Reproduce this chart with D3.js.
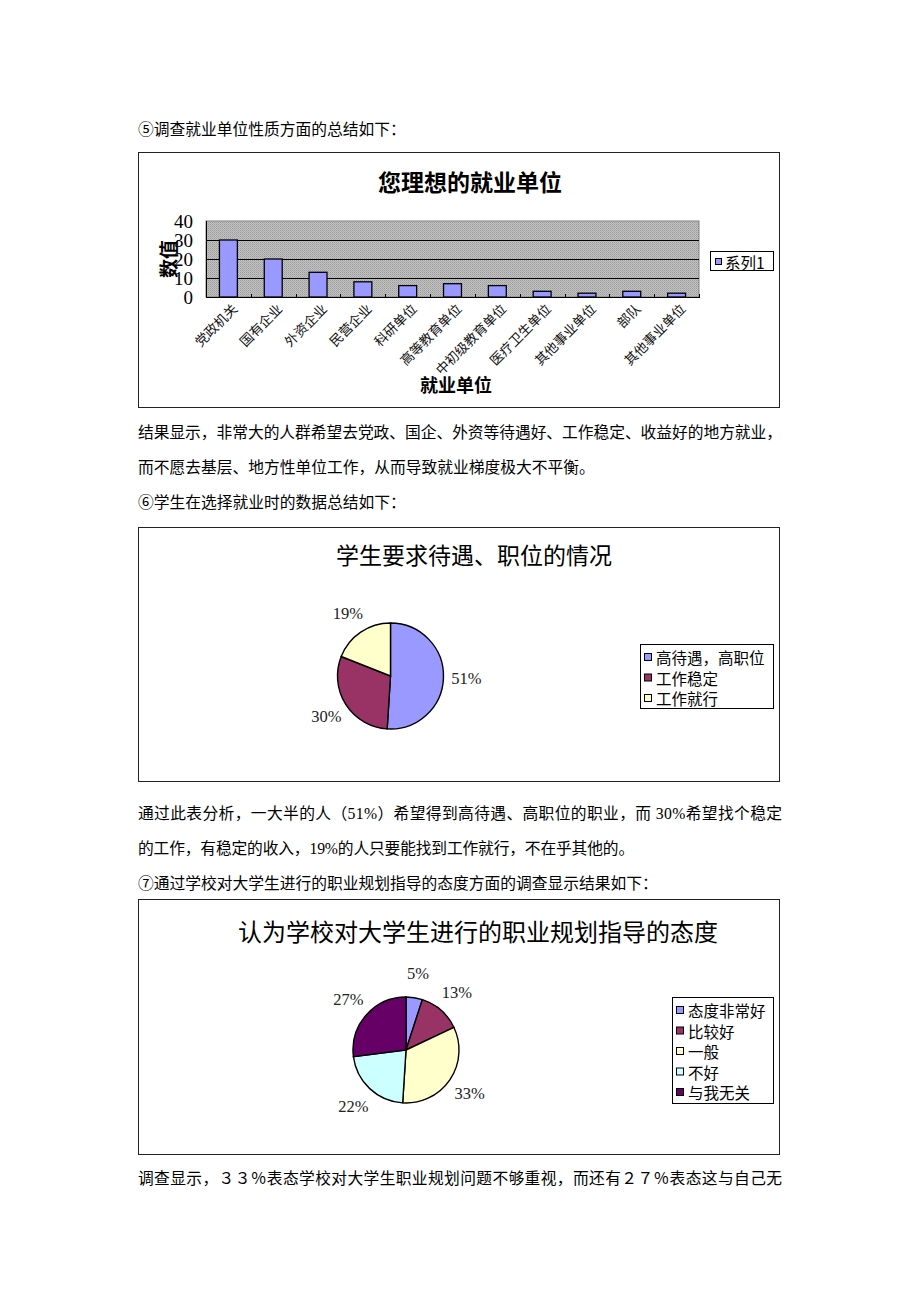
<!DOCTYPE html>
<html><head><meta charset="utf-8">
<script src="https://cdn.jsdelivr.net/npm/d3@7"></script>
<style>
html,body{margin:0;padding:0;background:#fff;}
svg{display:block;}
</style></head>
<body>
<svg id="c" width="920" height="1302"></svg>
<script>
// ---- data ----
const barCategories = ["党政机关","国有企业","外资企业","民营企业","科研单位","高等教育单位","中初级教育单位","医疗卫生单位","其他事业单位","部队","其他事业单位"];
const barValues = [30,20,13,8,6,7,6,3,2,3,2];
const barTicks = [0,10,20,30,40];
const barSeriesName = "系列1";

const pie1Labels = ["高待遇，高职位","工作稳定","工作就行"];
const pie1Values = [51,30,19];

const pie2Labels = ["态度非常好","比较好","一般","不好","与我无关"];
const pie2Values = [5,13,33,22,27];

const colors = ["#9999FF","#993366","#FFFFCC","#CCFFFF","#660066"];

const titles = ["您理想的就业单位","学生要求待遇、职位的情况","认为学校对大学生进行的职业规划指导的态度"];

const paragraphs = [
  {y:129, t:"⑤调查就业单位性质方面的总结如下：", full:false},
  {y:432, t:"结果显示，非常大的人群希望去党政、国企、外资等待遇好、工作稳定、收益好的地方就业，", full:true},
  {y:467, t:"而不愿去基层、地方性单位工作，从而导致就业梯度极大不平衡。", full:false},
  {y:502, t:"⑥学生在选择就业时的数据总结如下：", full:false},
  {y:813, t:"通过此表分析，一大半的人（51%）希望得到高待遇、高职位的职业，而 30%希望找个稳定", full:true},
  {y:848, t:"的工作，有稳定的收入，19%的人只要能找到工作就行，不在乎其他的。", full:false},
  {y:883, t:"⑦通过学校对大学生进行的职业规划指导的态度方面的调查显示结果如下：", full:false},
  {y:1178, t:"调查显示，３３％表态学校对大学生职业规划问题不够重视，而还有２７％表态这与自己无", full:true}
];

const svg = d3.select("#c");
const SERIF = "'Liberation Serif','Noto Sans CJK SC',serif";
const CJK = "'Noto Sans CJK SC','Liberation Sans',sans-serif";
const FS = 15.75;

// pattern for plot background
const defs = svg.append("defs");
const pat = defs.append("pattern").attr("id","grayPat").attr("width",2).attr("height",2).attr("patternUnits","userSpaceOnUse");
pat.append("rect").attr("width",2).attr("height",2).attr("fill","#c2c2c2");
pat.append("rect").attr("width",1).attr("height",1).attr("fill","#9c9c9c");
pat.append("rect").attr("x",1).attr("y",1).attr("width",1).attr("height",1).attr("fill","#adadad");

// body text (Word-like: CJK chars full width, ASCII half width)
function textWidth(s){ let w=0; for(const ch of s){ w += ch.charCodeAt(0)<128 ? 0.5 : 1; } return w*FS; }
svg.append("g").selectAll("text").data(paragraphs).join("text")
  .attr("x",138).attr("y",d=>d.y)
  .attr("dominant-baseline","central")
  .attr("font-family",SERIF).attr("font-size",FS).attr("fill","#000")
  .attr("textLength",d=>d.full ? 644 : textWidth(d.t)).attr("lengthAdjust","spacing")
  .text(d=>d.t);

function box(y0,h){
  svg.append("rect").attr("x",138.5).attr("y",y0+0.5).attr("width",641).attr("height",h)
    .attr("fill","#fff").attr("stroke","#222").attr("stroke-width",1);
}

// ---------- bar chart ----------
box(152,255);
svg.append("text").attr("x",470).attr("y",181).attr("text-anchor","middle").attr("dominant-baseline","central")
  .attr("font-family",CJK).attr("font-size",23).attr("font-weight","bold").text(titles[0]);

const plot = {l:206,r:699,t:221,b:297};
const x = d3.scaleBand().domain(d3.range(barCategories.length)).range([plot.l,plot.r]).paddingInner(0.6).paddingOuter(0.3);
const y = d3.scaleLinear().domain([0,40]).range([plot.b,plot.t]);
const xb = d3.scaleBand().domain(d3.range(barCategories.length)).range([plot.l,plot.r]);

svg.append("rect").attr("x",plot.l).attr("y",plot.t).attr("width",plot.r-plot.l).attr("height",plot.b-plot.t)
  .attr("fill","url(#grayPat)").attr("stroke","#808080");
// gridlines
svg.append("g").selectAll("line").data(barTicks.filter(d=>d>0 && d<40)).join("line")
  .attr("x1",plot.l).attr("x2",plot.r).attr("y1",d=>Math.round(y(d))+0.5).attr("y2",d=>Math.round(y(d))+0.5)
  .attr("stroke","#000").attr("stroke-width",1);
// bars
svg.append("g").selectAll("rect").data(barValues).join("rect")
  .attr("x",(d,i)=>x(i)).attr("width",x.bandwidth())
  .attr("y",d=>y(d)).attr("height",d=>plot.b-y(d))
  .attr("fill","#9999FF").attr("stroke","#000").attr("stroke-width",1.3);
// axes
svg.append("line").attr("x1",plot.l).attr("x2",plot.r).attr("y1",plot.b+0.5).attr("y2",plot.b+0.5).attr("stroke","#000");
svg.append("line").attr("x1",plot.l+0.5).attr("x2",plot.l+0.5).attr("y1",plot.t).attr("y2",plot.b).attr("stroke","#000");
svg.append("g").selectAll("line").data(d3.range(barCategories.length+1)).join("line")
  .attr("x1",i=>Math.round(plot.l+i*xb.step())+0.5).attr("x2",i=>Math.round(plot.l+i*xb.step())+0.5)
  .attr("y1",plot.b-3).attr("y2",plot.b+1).attr("stroke","#000");
// y tick labels
svg.append("g").selectAll("text").data(barTicks).join("text")
  .attr("x",193).attr("y",d=>y(d)).attr("dominant-baseline","central").attr("text-anchor","end")
  .attr("font-family",SERIF).attr("font-size",19).text(d=>d);
// y axis title
svg.append("text").attr("transform","translate(167,259) rotate(-90)").attr("text-anchor","middle").attr("dominant-baseline","central")
  .attr("font-family",CJK).attr("font-size",19).attr("font-weight","bold").text("数值");
// x labels
svg.append("g").selectAll("text").data(barCategories).join("text")
  .attr("transform",(d,i)=>`translate(${xb(i)+xb.bandwidth()/2+6},${plot.b+9}) rotate(-45)`)
  .attr("text-anchor","end").attr("dominant-baseline","central")
  .attr("font-family",CJK).attr("font-size",13.3).attr("fill","#111").text(d=>d);
// x axis title
svg.append("text").attr("x",456).attr("y",384).attr("text-anchor","middle").attr("dominant-baseline","central")
  .attr("font-family",CJK).attr("font-size",18).attr("font-weight","bold").text("就业单位");
// legend
svg.append("rect").attr("x",710.5).attr("y",251.5).attr("width",63).attr("height",19).attr("fill","#fff").attr("stroke","#000");
svg.append("rect").attr("x",715.5).attr("y",258.5).attr("width",6).attr("height",6).attr("fill","#9999FF").attr("stroke","#000");
svg.append("text").attr("x",725).attr("y",261.5).attr("dominant-baseline","central").attr("font-family",CJK).attr("font-size",15.5).text(barSeriesName);

// ---------- pies ----------
function drawPie(cfg){
  box(cfg.boxY,cfg.boxH);
  svg.append("text").attr("x",cfg.titleX).attr("y",cfg.titleY).attr("text-anchor","middle").attr("dominant-baseline","central")
    .attr("font-family",CJK).attr("font-size",cfg.titleSize).text(cfg.title);
  const pie = d3.pie().sort(null).value(d=>d)(cfg.values);
  const arc = d3.arc().innerRadius(0).outerRadius(cfg.r);
  const lab = d3.arc().innerRadius(cfg.lr).outerRadius(cfg.lr);
  const g = svg.append("g").attr("transform",`translate(${cfg.cx},${cfg.cy})`);
  g.selectAll("path").data(pie).join("path").attr("d",arc)
    .attr("fill",(d,i)=>colors[i]).attr("stroke","#000").attr("stroke-width",1.4);
  g.selectAll("text").data(pie).join("text")
    .attr("x",d=>lab.centroid(d)[0]).attr("y",d=>lab.centroid(d)[1])
    .attr("text-anchor","middle").attr("dominant-baseline","central")
    .attr("font-family",SERIF).attr("font-size",16.5).attr("fill","#222")
    .text(d=>d.data+"%");
  // legend
  const L = cfg.legend;
  svg.append("rect").attr("x",L.x+0.5).attr("y",L.y+0.5).attr("width",L.w).attr("height",L.h)
    .attr("fill","#fff").attr("stroke","#000");
  const lg = svg.append("g");
  cfg.labels.forEach((t,i)=>{
    const yy = L.y0 + i*L.step;
    lg.append("rect").attr("x",L.x+4.5).attr("y",yy-3.5).attr("width",7).attr("height",7)
      .attr("fill",colors[i]).attr("stroke","#000");
    lg.append("text").attr("x",L.x+16).attr("y",yy).attr("dominant-baseline","central")
      .attr("font-family",CJK).attr("font-size",15.5).text(t);
  });
}

drawPie({boxY:527,boxH:254,title:titles[1],titleX:474,titleY:554,titleSize:23,
  values:pie1Values,labels:pie1Labels,cx:390.5,cy:676,r:53,lr:76,
  legend:{x:640,y:644,w:133,h:64,y0:657,step:20.5}});

drawPie({boxY:899,boxH:255,title:titles[2],titleX:478,titleY:930,titleSize:24,
  values:pie2Values,labels:pie2Labels,cx:406,cy:1050,r:53,lr:77,
  legend:{x:672,y:997,w:101,h:106,y0:1010,step:20.5}});
</script>
</body></html>
